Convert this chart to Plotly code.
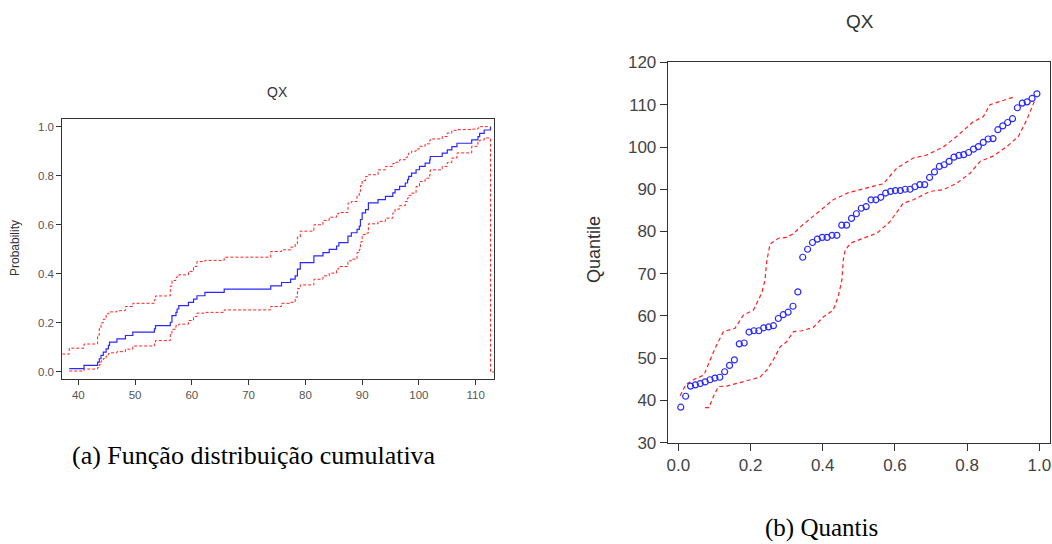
import plotly.graph_objects as go

# Sorted QX observations (n = 74)
qx = [38.4, 41.0, 43.4, 43.7, 44.0, 44.4, 44.9, 45.3, 45.5, 46.8,
      48.3, 49.6, 53.4, 53.6, 56.2, 56.5, 56.5, 57.2, 57.4, 57.7,
      59.4, 60.3, 60.9, 62.3, 65.7, 73.9, 75.8, 77.4, 78.2, 78.6,
      78.6, 79.1, 79.1, 81.5, 81.5, 83.1, 84.2, 85.5, 85.9, 87.5,
      87.5, 88.1, 89.1, 89.5, 89.7, 89.7, 90.0, 90.0, 90.6, 91.1,
      91.1, 92.8, 94.1, 95.4, 95.8, 96.6, 97.6, 98.0, 98.2, 98.7,
      99.5, 100.1, 101.1, 101.9, 102.0, 104.1, 105.0, 105.8, 106.7, 109.3,
      110.4, 110.7, 111.5, 112.6]

# Confidence band of the CDF: upper value before the first point and after each point
cdf_upper = [0.073, 0.097, 0.114, 0.15, 0.18, 0.20, 0.215, 0.237, 0.24, 0.245,
             0.25, 0.267, 0.28, 0.295, 0.31, 0.35, 0.36, 0.373, 0.385, 0.39,
             0.396, 0.41, 0.43, 0.45, 0.455, 0.468, 0.491, 0.498, 0.509, 0.522,
             0.54, 0.55, 0.565, 0.574, 0.59, 0.60, 0.618, 0.631, 0.645, 0.65,
             0.67, 0.688, 0.695, 0.72, 0.735, 0.75, 0.76, 0.77, 0.78, 0.797,
             0.80, 0.804, 0.824, 0.838, 0.85, 0.855, 0.865, 0.875, 0.886, 0.893,
             0.90, 0.909, 0.92, 0.93, 0.943, 0.95, 0.96, 0.974, 0.985, 0.988,
             0.99, 0.995, 1.0, 1.0, 1.0]
# Lower value after each point
cdf_lower = [0.004, 0.012, 0.018, 0.03, 0.045, 0.055, 0.065, 0.075, 0.078, 0.083,
             0.093, 0.106, 0.115, 0.128, 0.158, 0.165, 0.174, 0.19, 0.192, 0.195,
             0.21, 0.226, 0.24, 0.243, 0.253, 0.267, 0.28, 0.284, 0.305, 0.33,
             0.34, 0.35, 0.355, 0.37, 0.378, 0.392, 0.403, 0.42, 0.43, 0.445,
             0.453, 0.46, 0.487, 0.50, 0.51, 0.53, 0.552, 0.56, 0.566, 0.59,
             0.604, 0.614, 0.627, 0.648, 0.664, 0.678, 0.695, 0.709, 0.72, 0.729,
             0.756, 0.777, 0.79, 0.804, 0.824, 0.838, 0.854, 0.872, 0.893, 0.92,
             0.94, 0.945, 0.954, 0.0]

# Quantile confidence bands (probability, quantile)
qband_up_p = [0.005, 0.021, 0.046, 0.071, 0.088, 0.106, 0.125, 0.157, 0.18, 0.208,
              0.231, 0.240, 0.245, 0.254, 0.277, 0.30, 0.319, 0.337, 0.365, 0.392,
              0.429, 0.471, 0.526, 0.568, 0.605, 0.651, 0.688, 0.734, 0.771, 0.817,
              0.845, 0.863, 0.891, 0.928]
qband_up_q = [41.1, 43.8, 45.1, 46.0, 49.6, 53.1, 56.3, 57.1, 60.2, 61.4,
              65.4, 68.5, 73.0, 77.0, 78.4, 78.6, 79.5, 81.0, 83.0, 84.9,
              87.5, 89.2, 90.3, 91.3, 95.0, 97.4, 98.1, 100.0, 102.5, 106.0,
              107.2, 110.0, 110.8, 111.8]
qband_lo_p = [0.074, 0.085, 0.097, 0.111, 0.134, 0.171, 0.226, 0.245, 0.263, 0.282,
              0.30, 0.319, 0.342, 0.374, 0.402, 0.429, 0.443, 0.453, 0.457, 0.462,
              0.476, 0.512, 0.55, 0.586, 0.623, 0.651, 0.697, 0.734, 0.771, 0.808,
              0.836, 0.873, 0.91, 0.942, 0.965, 0.988]
qband_lo_q = [38.3, 38.3, 40.9, 43.3, 43.4, 44.2, 45.5, 47.2, 49.6, 52.7,
              53.9, 56.3, 56.5, 57.3, 59.8, 61.4, 64.6, 68.5, 73.3, 75.5,
              77.2, 78.4, 79.6, 82.3, 86.7, 87.5, 89.5, 89.9, 91.4, 93.8,
              96.6, 97.9, 100.1, 102.5, 106.4, 111.2]

x_ticks_a = [40, 50, 60, 70, 80, 90, 100, 110]
y_ticks_a = [0.0, 0.2, 0.4, 0.6, 0.8, 1.0]
x_ticks_b = [0.0, 0.2, 0.4, 0.6, 0.8, 1.0]
y_ticks_b = [30, 40, 50, 60, 70, 80, 90, 100, 110, 120]

xa_range = [37.18, 113.28]
n = len(qx)
ecdf = [(i + 1) / n for i in range(n)]
pp = [(i + 0.5) / n for i in range(n)]

RED = "#ff2020"
BLUE = "#2a2aff"
W, H = 1052, 544

fig = go.Figure()

# (a) empirical CDF with its band
fig.add_trace(go.Scatter(x=[xa_range[0]] + qx, y=cdf_upper, mode="lines",
                         line=dict(color=RED, width=1, dash="3px,2px", shape="hv"),
                         xaxis="x", yaxis="y", hoverinfo="skip"))
fig.add_trace(go.Scatter(x=qx + [xa_range[1]], y=cdf_lower + [cdf_lower[-1]], mode="lines",
                         line=dict(color=RED, width=1, dash="3px,2px", shape="hv"),
                         xaxis="x", yaxis="y", hoverinfo="skip"))
fig.add_trace(go.Scatter(x=qx, y=ecdf, mode="lines",
                         line=dict(color=BLUE, width=1.2, shape="hv"),
                         xaxis="x", yaxis="y"))

# (b) quantile plot with its band
fig.add_trace(go.Scatter(x=qband_up_p, y=qband_up_q, mode="lines",
                         line=dict(color=RED, width=1.2, dash="4px,3px"),
                         xaxis="x2", yaxis="y2", hoverinfo="skip"))
fig.add_trace(go.Scatter(x=qband_lo_p, y=qband_lo_q, mode="lines",
                         line=dict(color=RED, width=1.2, dash="4px,3px"),
                         xaxis="x2", yaxis="y2", hoverinfo="skip"))
fig.add_trace(go.Scatter(x=pp, y=qx, mode="markers",
                         marker=dict(symbol="circle-open", size=6, color=BLUE,
                                     line=dict(width=1.2, color=BLUE)),
                         xaxis="x2", yaxis="y2"))

axis_common = dict(showgrid=False, zeroline=False, showline=True, mirror=True,
                   linecolor="#333333", linewidth=1, ticks="outside", tickcolor="#333333",
                   automargin=False)

fig.update_layout(
    width=W, height=H,
    margin=dict(l=0, r=0, t=0, b=0, pad=0, autoexpand=False),
    paper_bgcolor="white", plot_bgcolor="white", showlegend=False,
    font=dict(family="Liberation Sans, Arial, sans-serif", color="#444444"),
    xaxis=dict(domain=[62.3 / W, 494.3 / W], range=xa_range, anchor="y",
               tickvals=x_ticks_a, ticklen=5, tickfont=dict(size=11.5, color="#555555"),
               **axis_common),
    yaxis=dict(domain=[1 - 379.3 / H, 1 - 119.3 / H], range=[-0.0298, 1.030], anchor="x",
               tickvals=y_ticks_a, tickformat=".1f", ticklen=5,
               tickfont=dict(size=11.5, color="#555555"), **axis_common),
    xaxis2=dict(domain=[667.7 / W, 1050 / W], range=[-0.0294, 1.0295], anchor="y2",
                tickvals=x_ticks_b, tickformat=".1f", ticklen=7,
                tickfont=dict(size=17, color="#444444"), **axis_common),
    yaxis2=dict(domain=[1 - 442.7 / H, 1 - 61.7 / H], range=[30, 120.2], anchor="x2",
                tickvals=y_ticks_b, ticklen=7,
                tickfont=dict(size=17, color="#444444"), **axis_common),
)

def label(text, x, y, size, angle=0, family=None, color="#333333"):
    fig.add_annotation(text=text, x=x / W, y=1 - y / H, xref="paper", yref="paper",
                       xanchor="center", yanchor="middle", showarrow=False,
                       textangle=angle, borderpad=0,
                       font=dict(size=size, color=color,
                                 family=family or "Liberation Sans, Arial, sans-serif"))

label("QX", 277.5, 92, 14)
label("Probability", 15, 248, 12, angle=-90)
label("QX", 860, 22, 19)
label("Quantile", 594, 250, 18, angle=-90)
label("(a) Função distribuição cumulativa", 254, 455, 26,
      family="Liberation Serif, Times New Roman, serif", color="#000000")
label("(b) Quantis", 821, 528, 25,
      family="Liberation Serif, Times New Roman, serif", color="#000000")

fig.write_html("out.html")
